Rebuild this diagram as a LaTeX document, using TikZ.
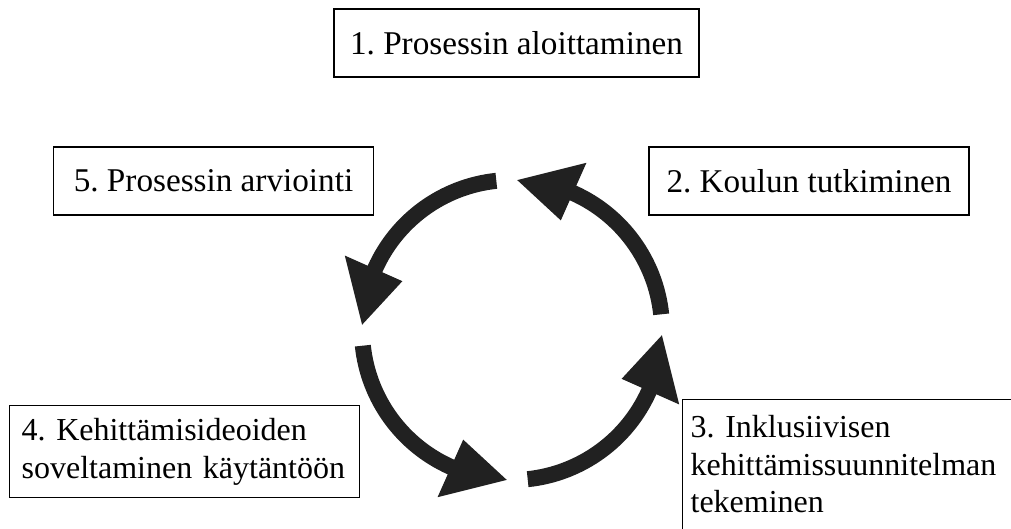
\documentclass[tikz,border=0pt]{standalone}
\usepackage{fontspec}
\setmainfont{Liberation Serif}
\frenchspacing
\usetikzlibrary{positioning,arrows.meta,calc}

\begin{document}
\begin{tikzpicture}[x=1pt,y=-1pt,
  phase/.style={draw,line width=1.2pt,font=\fontsize{33.2}{38}\selectfont,inner xsep=0pt,inner ysep=0pt},
  longphase/.style={phase,anchor=north west,align=left,font=\fontsize{32}{37.5}\selectfont},
  cyclearrow/.style={fill=black!87}]
  \useasboundingbox (0,0) rectangle (1011,529);
  \node[phase,minimum width=365pt,minimum height=68pt] (start) at (516.5,43) {1. Prosessin aloittaminen};
  \node[phase,minimum width=320pt,minimum height=68pt] (eval) at (213.5,181) {5. Prosessin arviointi};
  \node[phase,minimum width=320pt,minimum height=68pt] (study) at (809,181) {2. Koulun tutkiminen};
  \node[longphase,minimum width=350pt,minimum height=92pt,text width=326pt,inner xsep=12pt] (apply) at (9,405) {4. Kehittämisideoiden\\soveltaminen käytäntöön};
  \node[longphase,text width=330pt,inner xsep=8pt,inner ysep=16pt] (plan) at (682,399) {3. Inklusiivisen\\kehittämissuunnitelman\\tekeminen\rule[-40pt]{0pt}{40pt}};
  % the cycle: band plus head, one filled outline each
  \coordinate (C) at (512,330);
  \foreach \q in {-90,180,90,0}
    \fill[cyclearrow] ($(C)+(\q-6:158)$) arc[start angle=\q-6,end angle=\q-66,radius=158]
      -- ($(C)+(\q-66:183)$) -- ($(C)+(\q-88:150)$) -- ($(C)+(\q-66:120)$)
      -- ($(C)+(\q-66:142)$) arc[start angle=\q-66,end angle=\q-6,radius=142] -- cycle;
\end{tikzpicture}
\end{document}
